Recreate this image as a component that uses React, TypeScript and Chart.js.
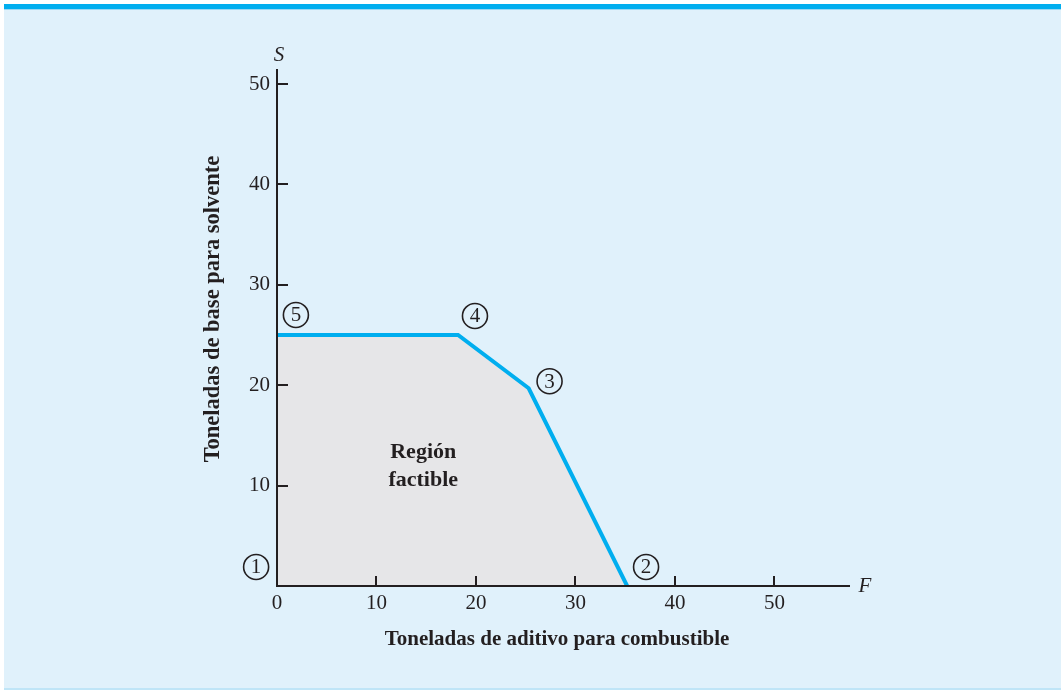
import React, { useEffect, useRef } from 'react';
import { Chart, registerables } from 'chart.js';

Chart.register(...registerables);

// ---- data ----
const feasibleF = [0, 18.2, 25.3, 35.2];
const feasibleS = [25, 25, 19.7, 0];
const xTickValues = [0, 10, 20, 30, 40, 50];
const yTickValues = [10, 20, 30, 40, 50];
const vertexLabels = ['1', '2', '3', '4', '5'];
const vertexLabelF = [-2.1, 37.1, 27.4, 19.9, 1.9];
const vertexLabelS = [1.9, 1.9, 20.4, 26.9, 27.0];
const regionText = ['Región', 'factible'];
const regionF = 14.7;
const regionS = 11.9;
const xAxisTitle = 'Toneladas de aditivo para combustible';
const yAxisTitle = 'Toneladas de base para solvente';
const xVar = 'F';
const yVar = 'S';
const xMax = 57.5;
const yMax = 51.4;

const INK = '#231f20';
const SERIF = '"Liberation Serif", "DejaVu Serif", serif';

const decorPlugin = {
  id: 'decor',
  beforeDraw(chart: any) {
    const ctx = chart.ctx;
    const w = chart.width;
    const h = chart.height;
    ctx.save();
    ctx.fillStyle = '#ffffff';
    ctx.fillRect(0, 0, w, h);
    ctx.fillStyle = '#e0f1fb';
    ctx.fillRect(4, 4, w - 4, h - 4);
    ctx.fillStyle = '#00aeef';
    ctx.fillRect(4, 4, w - 4, 5);
    ctx.fillStyle = '#9ad8f4';
    ctx.fillRect(4, 9, w - 4, 1);
    ctx.fillStyle = '#bfe5f7';
    ctx.fillRect(4, h - 2, w - 4, 2);
    ctx.restore();
  },
  afterDatasetsDraw(chart: any) {
    const ctx = chart.ctx;
    const xs = chart.scales.x;
    const ys = chart.scales.y;
    const area = chart.chartArea;
    ctx.save();
    ctx.strokeStyle = INK;
    ctx.lineWidth = 2;
    // axis lines over the fill
    ctx.beginPath();
    ctx.moveTo(area.left, area.top);
    ctx.lineTo(area.left, area.bottom);
    ctx.lineTo(area.right, area.bottom);
    ctx.stroke();
    // inward ticks
    xTickValues.forEach((v) => {
      if (v === 0) return;
      const px = Math.round(xs.getPixelForValue(v));
      ctx.beginPath();
      ctx.moveTo(px, area.bottom);
      ctx.lineTo(px, area.bottom - 10);
      ctx.stroke();
    });
    yTickValues.forEach((v) => {
      const py = Math.round(ys.getPixelForValue(v));
      ctx.beginPath();
      ctx.moveTo(area.left, py);
      ctx.lineTo(area.left + 11, py);
      ctx.stroke();
    });
    // circled vertex labels
    ctx.fillStyle = INK;
    ctx.textAlign = 'center';
    ctx.textBaseline = 'middle';
    vertexLabels.forEach((t, i) => {
      const cx = xs.getPixelForValue(vertexLabelF[i]);
      const cy = ys.getPixelForValue(vertexLabelS[i]);
      ctx.lineWidth = 1.6;
      ctx.beginPath();
      ctx.arc(cx, cy, 12.5, 0, Math.PI * 2);
      ctx.stroke();
      ctx.font = `21px ${SERIF}`;
      ctx.fillText(t, cx, cy + 1);
    });
    // region text
    ctx.font = `bold 22px ${SERIF}`;
    const rx = xs.getPixelForValue(regionF);
    const ry = ys.getPixelForValue(regionS);
    ctx.fillText(regionText[0], rx, ry - 14);
    ctx.fillText(regionText[1], rx, ry + 14);
    // axis variable names
    ctx.font = `italic 21px ${SERIF}`;
    ctx.fillText(yVar, area.left + 2, area.top - 15);
    ctx.fillText(xVar, area.right + 16, area.bottom);
    // axis titles
    ctx.font = `bold 21px ${SERIF}`;
    ctx.fillText(xAxisTitle, 557, 640);
    ctx.font = `bold 22.5px ${SERIF}`;
    ctx.translate(213, 309);
    ctx.rotate(-Math.PI / 2);
    ctx.fillText(yAxisTitle, 0, 0);
    ctx.restore();
  },
};

export default function App() {
  const ref = useRef<HTMLCanvasElement>(null);
  useEffect(() => {
    if (!ref.current) return;
    const chart = new Chart(ref.current, {
      type: 'line',
      data: {
        datasets: [
          {
            data: feasibleF.map((f, i) => ({ x: f, y: feasibleS[i] })),
            borderColor: '#00aeef',
            borderWidth: 4,
            backgroundColor: '#e6e6e8',
            fill: 'origin',
            pointRadius: 0,
            tension: 0,
            borderJoinStyle: 'miter',
          } as any,
        ],
      },
      options: {
        responsive: false,
        animation: false,
        events: [],
        layout: { padding: { left: 0, top: 70, right: 212, bottom: 0 } },
        plugins: { legend: { display: false }, tooltip: { enabled: false } },
        scales: {
          x: {
            type: 'linear',
            min: 0,
            max: xMax,
            afterBuildTicks: (s: any) => {
              s.ticks = xTickValues.map((v) => ({ value: v }));
            },
            afterFit: (s: any) => {
              s.height = 104;
            },
            grid: { display: true, drawOnChartArea: false, drawTicks: false },
            border: { display: true, color: INK, width: 2 },
            ticks: {
              color: INK,
              padding: 5,
              maxRotation: 0,
              font: { family: SERIF, size: 21 },
            },
          },
          y: {
            type: 'linear',
            min: 0,
            max: yMax,
            afterBuildTicks: (s: any) => {
              s.ticks = yTickValues.map((v) => ({ value: v }));
            },
            afterFit: (s: any) => {
              s.width = 277;
            },
            grid: { display: true, drawOnChartArea: false, drawTicks: false },
            border: { display: true, color: INK, width: 2 },
            ticks: {
              color: INK,
              padding: 7,
              font: { family: SERIF, size: 21 },
            },
          },
        },
      },
      plugins: [decorPlugin],
    });
    return () => chart.destroy();
  }, []);
  return (
    <div style={{ position: 'absolute', left: 0, top: 0, width: 1061, height: 690 }}>
      <canvas ref={ref} width={1061} height={690} />
    </div>
  );
}
